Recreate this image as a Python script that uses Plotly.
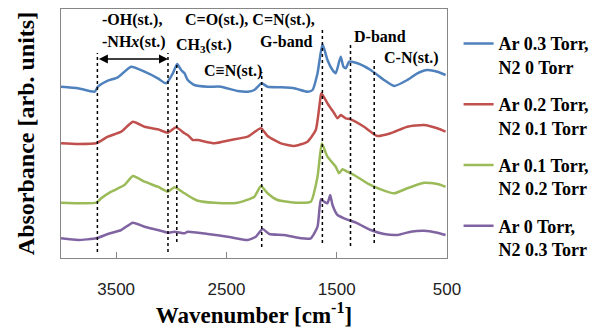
import plotly.graph_objects as go

# ---- data (wavenumber [cm-1], absorbance [arb. units, offset]) ----
wn_ar03 = [4000, 3845, 3695, 3665, 3575, 3484, 3364, 3243, 3122, 3047, 2986, 2947, 2911, 2880,
           2851, 2790, 2670, 2549, 2398, 2308, 2247, 2181, 2127, 2006, 1885, 1765, 1719, 1674,
           1629, 1584, 1538, 1509, 1478, 1463, 1439, 1418, 1387, 1312, 1192, 1071, 980, 860,
           769, 679, 588, 513]
ab_ar03 = [1.713, 1.697, 1.663, 1.713, 1.773, 1.807, 1.913, 1.863, 1.797, 1.747, 1.847, 1.94, 1.88, 1.847,
           1.78, 1.73, 1.713, 1.713, 1.67, 1.663, 1.68, 1.747, 1.713, 1.707, 1.697, 1.663, 1.68, 1.847,
           2.14, 1.98, 1.88, 1.847, 1.963, 2.013, 1.913, 1.897, 1.963, 1.947, 1.88, 1.78, 1.72, 1.78,
           1.847, 1.88, 1.863, 1.83]

wn_ar02 = [4000, 3845, 3681, 3575, 3454, 3348, 3243, 3122, 3032, 2957, 2880, 2851, 2805, 2760,
           2609, 2459, 2308, 2187, 2127, 2006, 1885, 1765, 1690, 1644, 1638, 1584, 1523, 1493,
           1463, 1418, 1373, 1252, 1131, 1011, 860, 709, 588, 513]
ab_ar02 = [1.147, 1.14, 1.147, 1.213, 1.263, 1.363, 1.313, 1.287, 1.253, 1.307, 1.247, 1.23, 1.18, 1.18,
           1.147, 1.18, 1.213, 1.297, 1.22, 1.147, 1.12, 1.163, 1.28, 1.63, 1.647, 1.547, 1.447, 1.397,
           1.43, 1.397, 1.387, 1.313, 1.22, 1.247, 1.313, 1.33, 1.297, 1.263]

wn_ar01 = [4000, 3681, 3635, 3545, 3424, 3348, 3243, 3122, 3032, 2971, 2880, 2805, 2760, 2609,
           2398, 2247, 2187, 2127, 2036, 1855, 1735, 1674, 1635, 1584, 1509, 1478, 1448, 1403,
           1342, 1222, 1101, 980, 860, 709, 588, 513]
ab_ar01 = [0.553, 0.553, 0.597, 0.663, 0.73, 0.82, 0.763, 0.713, 0.663, 0.707, 0.647, 0.597, 0.573, 0.553,
           0.553, 0.613, 0.72, 0.647, 0.58, 0.553, 0.563, 0.813, 1.145, 1.013, 0.913, 0.847, 0.887, 0.863,
           0.83, 0.747, 0.687, 0.647, 0.697, 0.753, 0.74, 0.713]

wn_ar00 = [4000, 3845, 3681, 3575, 3454, 3348, 3243, 3122, 3032, 2971, 2880, 2851, 2670, 2489,
           2308, 2233, 2172, 2111, 1976, 1825, 1735, 1674, 1644, 1614, 1584, 1559, 1538, 1493,
           1433, 1312, 1192, 1071, 950, 830, 709, 588, 513]
ab_ar00 = [0.197, 0.18, 0.197, 0.24, 0.28, 0.353, 0.313, 0.28, 0.253, 0.263, 0.247, 0.263, 0.24, 0.213,
           0.18, 0.213, 0.29, 0.24, 0.23, 0.197, 0.197, 0.313, 0.587, 0.563, 0.547, 0.63, 0.53, 0.43,
           0.397, 0.347, 0.28, 0.24, 0.23, 0.263, 0.273, 0.253, 0.23]

series_names = ["<b>Ar 0.3 Torr,<br>N2 0 Torr</b>", "<b>Ar 0.2 Torr,<br>N2 0.1 Torr</b>",
                "<b>Ar 0.1 Torr,<br>N2 0.2 Torr</b>", "<b>Ar 0 Torr,<br>N2 0.3 Torr</b>"]
series_colors = ["#4F81BD", "#C0504D", "#9BBB59", "#8064A2"]

# band-marker lines: (wavenumber, bottom, top) in absorbance units
band_wn = [3670, 3030, 2950, 2180, 1630, 1375, 1160]
band_lo = [0.06, 0.06, 0.16, 0.11, 0.15, 0.12, 0.15]
band_hi = [2.05, 2.05, 1.96, 1.86, 2.31, 2.13, 1.99]

tick_vals = [3500, 2500, 1500, 500]

fig = go.Figure()
for i, (xs, ys) in enumerate([(wn_ar03, ab_ar03), (wn_ar02, ab_ar02),
                              (wn_ar01, ab_ar01), (wn_ar00, ab_ar00)]):
    fig.add_trace(go.Scatter(x=xs, y=ys, mode="lines", name=series_names[i],
                             legendgroup=str(i),
                             line=dict(color=series_colors[i], width=2.5, shape="spline", smoothing=0.5)))

for w, lo, hi in zip(band_wn, band_lo, band_hi):
    fig.add_shape(type="line", x0=w, x1=w, y0=lo, y1=hi, xref="x", yref="y",
                  line=dict(color="black", width=1.5, dash="dot"))

serif = "Liberation Serif"
afont = dict(family=serif, size=16, color="black")

# double arrow
fig.add_annotation(x=3030, y=1.99, ax=3670, ay=1.99, xref="x", yref="y", axref="x", ayref="y",
                   text="", showarrow=True, arrowhead=2, arrowside="end+start",
                   arrowsize=1.2, arrowwidth=1.5, arrowcolor="black")

labels = [
    ("<b>-OH(st.),</b>", 100, 20),
    ("<b>-NH<i>x</i>(st.)</b>", 100, 42),
    ("<b>C=O(st.), C=N(st.),</b>", 183, 20),
    ("<b>CH<sub>3</sub>(st.)</b>", 174, 45),
    ("<b>G-band</b>", 258, 42),
    ("<b>C≡N(st.)</b>", 202, 71),
    ("<b>D-band</b>", 352, 36),
    ("<b>C-N(st.)</b>", 382, 58),
]
L, R, T, B = 61, 156, 9, 73
W, H = 603, 331
pw, ph = W - L - R, H - T - B
for txt, px, py in labels:
    fig.add_annotation(x=(px - L) / pw, y=1 - (py - T) / ph, xref="paper", yref="paper",
                       text=txt, showarrow=False, xanchor="left", yanchor="middle",
                       font=afont)

fig.update_layout(
    width=W, height=H,
    margin=dict(l=L, r=R, t=T, b=B, autoexpand=False),
    plot_bgcolor="white", paper_bgcolor="white",
    showlegend=True,
    legend=dict(x=1.03, y=0.935, xanchor="left", yanchor="top", maxheight=400,
                font=dict(family=serif, size=18, color="black"),
                valign="top", tracegroupgap=11, bgcolor="rgba(0,0,0,0)"),
    xaxis=dict(range=[4000, 500], tickvals=tick_vals, ticks="inside", ticklen=6,
               tickcolor="#868686", showline=True, mirror=True, linecolor="#868686",
               linewidth=1, showgrid=False, zeroline=False, ticklabelstandoff=16,
               automargin=False,
               tickfont=dict(family="Liberation Sans", size=17, color="#222"),
               title=dict(text="<b>Wavenumber [cm<sup>-1</sup>]</b>",
                          font=dict(family=serif, size=23, color="black"), standoff=3)),
    yaxis=dict(range=[0, 2.49], showticklabels=False, ticks="", showline=True, mirror=True,
               linecolor="#868686", linewidth=1, showgrid=False, zeroline=False,
               automargin=False,
               title=dict(text="<b>Absorbance [arb. units]</b>",
                          font=dict(family=serif, size=24, color="black"), standoff=18)),
)
fig.write_html("out.html", config={"displayModeBar": False},
               post_script="document.body.style.margin='0';document.body.style.padding='0';")
